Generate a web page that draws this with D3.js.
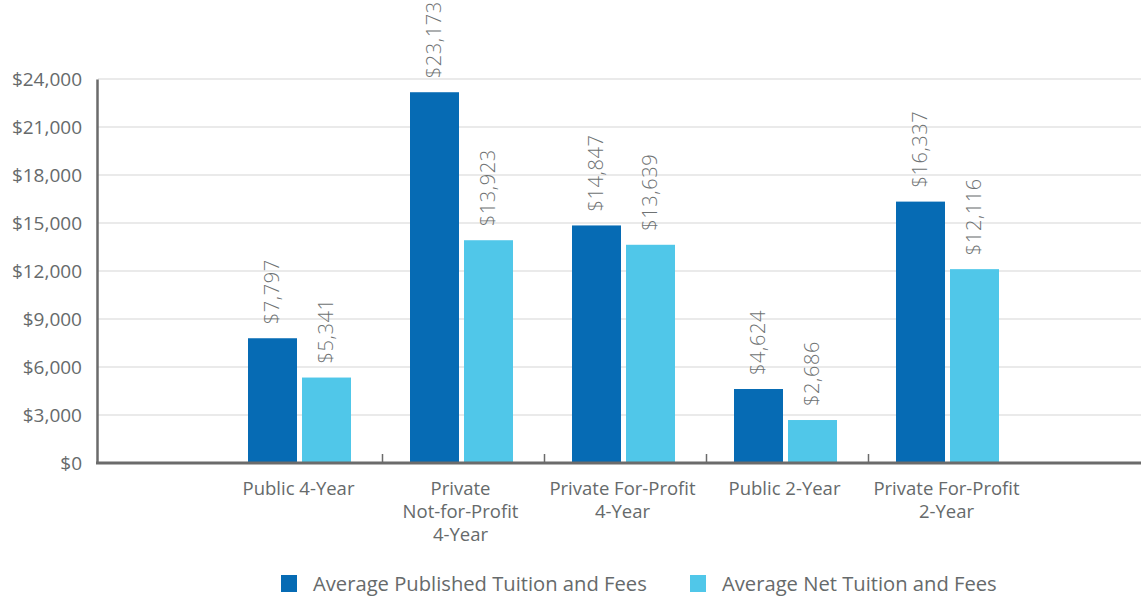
<!DOCTYPE html>
<html>
<head>
<meta charset="utf-8">
<script src="https://cdn.jsdelivr.net/npm/d3@7"></script>
<style>
  html, body { margin: 0; padding: 0; background: #fff; }
  svg { display: block; font-family: "Open Sans", "Noto Sans", sans-serif; }
</style>
</head>
<body>
<svg id="chart" width="1141" height="600"></svg>
<script>
const categories = [
  ["Public 4-Year"],
  ["Private", "Not-for-Profit", "4-Year"],
  ["Private For-Profit", "4-Year"],
  ["Public 2-Year"],
  ["Private For-Profit", "2-Year"]
];
const seriesNames = ["Average Published Tuition and Fees", "Average Net Tuition and Fees"];
const publishedValues = [7797, 23173, 14847, 4624, 16337];
const netValues = [5341, 13923, 13639, 2686, 12116];
const yTicks = [0, 3000, 6000, 9000, 12000, 15000, 18000, 21000, 24000];
const colors = ["#066bb4", "#50c7e9"];

const svg = d3.select("#chart");
const textColor = "#666a6b";
const fontFam = '"Open Sans", "Noto Sans", sans-serif';

const catKeys = categories.map(c => c.join(" "));
const x0 = d3.scaleBand().domain(catKeys).range([218.5, 1028.5]).padding(0);
const y = d3.scaleLinear().domain([0, 24000]).range([463, 79]);

const barW = 49, gap = 5;
const x1 = d3.scaleOrdinal().domain([0, 1]).range([-(gap / 2 + barW), gap / 2]);

// gridlines
svg.append("g").selectAll("line").data(yTicks.filter(d => d > 0)).join("line")
  .attr("x1", 98).attr("x2", 1141)
  .attr("y1", d => y(d)).attr("y2", d => y(d))
  .attr("stroke", "#e3e3e3").attr("stroke-width", 1.5);

// y axis
const yAxis = d3.axisLeft(y).tickValues(yTicks).tickSize(0).tickPadding(15)
  .tickFormat(d => "$" + d3.format(",")(d));
const gy = svg.append("g").attr("transform", "translate(97,0)").call(yAxis)
  .attr("font-family", fontFam).attr("font-size", 19);
gy.select(".domain").attr("stroke", "#6b6b6b").attr("stroke-width", 2.5);
gy.selectAll("text").attr("fill", textColor).attr("dy", "0.36em");

// bars
const data = catKeys.map((k, i) => ({ key: k, vals: [publishedValues[i], netValues[i]] }));
const groups = svg.append("g").selectAll("g").data(data).join("g")
  .attr("transform", d => `translate(${x0(d.key) + x0.bandwidth() / 2},0)`);

groups.selectAll("rect").data(d => d.vals.map((v, j) => ({ v, j }))).join("rect")
  .attr("x", d => x1(d.j))
  .attr("width", barW)
  .attr("y", d => y(d.v))
  .attr("height", d => y(0) - y(d.v))
  .attr("fill", d => colors[d.j]);

groups.selectAll("text.val").data(d => d.vals.map((v, j) => ({ v, j }))).join("text")
  .attr("class", "val")
  .attr("transform", d => `translate(${x1(d.j) + barW / 2 - 1},${y(d.v) - 14}) rotate(-90)`)
  .attr("text-anchor", "start")
  .attr("dy", "0.35em")
  .attr("fill", "#6e7273")
  .attr("font-size", 20)
  .attr("font-weight", 300)
  .attr("letter-spacing", 0.6)
  .text(d => "$" + d3.format(",")(d.v));

// x axis line
svg.append("line").attr("x1", 96).attr("x2", 1141).attr("y1", 463).attr("y2", 463)
  .attr("stroke", "#6b6b6b").attr("stroke-width", 3);

// tick marks between categories
svg.append("g").selectAll("line").data(catKeys.slice(1)).join("line")
  .attr("x1", d => x0(d) + 2).attr("x2", d => x0(d) + 2)
  .attr("y1", 463).attr("y2", 454)
  .attr("stroke", "#6b6b6b").attr("stroke-width", 1.5);

// category labels
const labels = svg.append("g").selectAll("text").data(categories).join("text")
  .attr("text-anchor", "middle")
  .attr("fill", textColor)
  .attr("font-size", 18.5)
  .attr("transform", (d, i) => `translate(${x0(catKeys[i]) + x0.bandwidth() / 2 - 1},495)`);
labels.selectAll("tspan").data(d => d).join("tspan")
  .attr("x", 0).attr("dy", (d, i) => i === 0 ? 0 : 23).text(d => d);

// legend
const legendX = [281, 690];
const leg = svg.append("g").selectAll("g").data(seriesNames).join("g")
  .attr("transform", (d, i) => `translate(${legendX[i]},575)`);
leg.append("rect").attr("width", 16).attr("height", 17).attr("fill", (d, i) => colors[i]);
leg.append("text").attr("x", 32).attr("y", 15.5).attr("fill", textColor)
  .attr("font-size", 20.2).text(d => d);
</script>
</body>
</html>
